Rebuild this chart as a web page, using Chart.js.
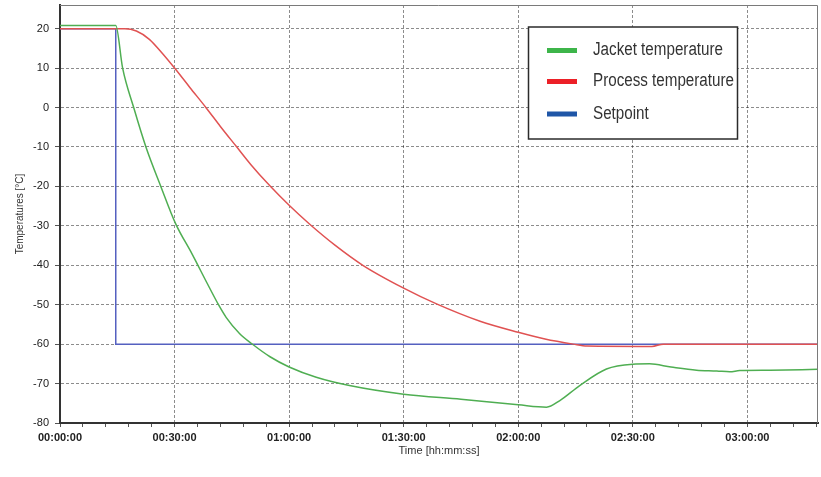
<!DOCTYPE html>
<html>
<head>
<meta charset="utf-8">
<script src="https://cdn.jsdelivr.net/npm/chart.js@4.4.1/dist/chart.umd.min.js"></script>
<style>
    html, body { margin: 0; padding: 0; background: #fff; }
    #wrap { width: 821px; height: 477px; position: relative; }
</style>
</head>
<body>
<div id="wrap"><canvas id="tempChart"></canvas></div>
<script>
// Time in minutes, temperatures in °C
const seriesNames = ['Jacket temperature', 'Process temperature', 'Setpoint'];

const jacketTime = [0, 14.6, 16.4, 19.3, 22.5, 26.4, 30.3, 34.5, 38.5, 41.5, 43.5, 47, 50.5, 55, 60, 67.1, 75.8, 90, 105, 120, 127.4, 130.9, 136.1, 143.1, 150, 154.4, 160, 166.7, 172, 175.4, 178, 185.9, 198.5];
const jacketTemp = [20.8, 20.8, 10, 0, -10, -20, -29.5, -37, -44.5, -50, -53.2, -57.3, -60.1, -63.2, -65.8, -68.4, -70.5, -72.7, -74, -75.4, -76, -74.3, -70.5, -66.3, -65.1, -65, -65.8, -66.6, -66.8, -67, -66.7, -66.6, -66.4];

const processTime = [0, 17, 20, 23.4, 27, 30, 34, 38.3, 42, 46.2, 50, 54.9, 60, 65.4, 72, 79.3, 90, 98.6, 110, 120, 127, 134.4, 138, 155, 158, 198.5];
const processTemp = [20, 20, 19.4, 17.3, 13.5, 10, 5.1, -0.1, -4.8, -9.9, -14.5, -19.8, -24.8, -29.6, -34.9, -40, -45.8, -49.8, -54.2, -57, -58.7, -60, -60.5, -60.6, -60, -60];

const setpointTime = [0, 14.6, 14.6, 198.5];
const setpointTemp = [20, 20, -60, -60];

const xTicks = ['00:00:00', '00:30:00', '01:00:00', '01:30:00', '02:00:00', '02:30:00', '03:00:00'];

const lineColors = ['#4fae52', '#e05252', '#5560c0'];
const legendColors = ['#3db54a', '#ec2027', '#1f56a7'];

function toPoints(times, temps) {
    return times.map((t, i) => ({ x: t, y: temps[i] }));
}

// legend box plus top/right frame of the plot area
const framePlugin = {
    id: 'frameLegend',
    afterDraw(chart) {
        const ctx = chart.ctx;
        const area = chart.chartArea;
        ctx.save();
        ctx.strokeStyle = '#7a7a7a';
        ctx.lineWidth = 1;
        ctx.beginPath();
        ctx.moveTo(area.left, area.top + 0.5);
        ctx.lineTo(area.right - 0.5, area.top + 0.5);
        ctx.lineTo(area.right - 0.5, area.bottom);
        ctx.stroke();

        const bx = 528.5, by = 27, bw = 209, bh = 112;
        ctx.fillStyle = '#fff';
        ctx.fillRect(bx, by, bw, bh);
        ctx.strokeStyle = '#2b2b2b';
        ctx.lineWidth = 1.5;
        ctx.strokeRect(bx, by, bw, bh);

        const rows = [50.5, 81.5, 114];
        ctx.font = "18px 'Liberation Sans', Arial, sans-serif";
        ctx.textBaseline = 'middle';
        // squeeze the text to the condensed look of the original legend
        const squeeze = 130 / ctx.measureText(seriesNames[0]).width;
        seriesNames.forEach((name, i) => {
            ctx.fillStyle = legendColors[i];
            ctx.fillRect(547, rows[i] - 2.5, 30, 5);
            ctx.save();
            ctx.translate(593, rows[i]);
            ctx.scale(squeeze, 1);
            ctx.fillStyle = '#333';
            ctx.fillText(name, 0, 0);
            ctx.restore();
        });
        ctx.restore();
    }
};

const chart = new Chart(document.getElementById('tempChart'), {
    type: 'line',
    data: {
        datasets: [
            {
                label: seriesNames[0],
                data: toPoints(jacketTime, jacketTemp),
                borderColor: lineColors[0],
                borderWidth: 1.5,
                pointRadius: 0,
                cubicInterpolationMode: 'monotone'
            },
            {
                label: seriesNames[1],
                data: toPoints(processTime, processTemp),
                borderColor: lineColors[1],
                borderWidth: 1.5,
                pointRadius: 0,
                cubicInterpolationMode: 'monotone'
            },
            {
                label: seriesNames[2],
                data: toPoints(setpointTime, setpointTemp),
                borderColor: lineColors[2],
                borderWidth: 1.5,
                pointRadius: 0,
                tension: 0
            }
        ]
    },
    options: {
        responsive: true,
        maintainAspectRatio: false,
        animation: false,
        layout: { padding: { top: 5, right: 3, left: 14, bottom: 19 } },
        plugins: {
            legend: { display: false },
            tooltip: { enabled: false }
        },
        scales: {
            x: {
                type: 'linear',
                min: 0,
                max: 198.5,
                afterFit: function(scale) {
                    scale.height = 35;
                    scale.paddingLeft = 0;
                    scale.paddingRight = 0;
                },
                border: { display: true, color: '#333', width: 2, dash: [3, 2] },
                grid: {
                    color: function(c) {
                        return (c.tick && c.tick.value % 30 === 0 && c.tick.value !== 0) ? 'rgba(0,0,0,0.45)' : 'transparent';
                    },
                    tickColor: '#555',
                    tickLength: 4,
                    lineWidth: 1
                },
                ticks: {
                    stepSize: 6,
                    includeBounds: false,
                    autoSkip: false,
                    maxRotation: 0,
                    padding: 4,
                    color: '#222',
                    font: { family: "'Liberation Sans', Arial, sans-serif", size: 11, weight: 'bold' },
                    callback: function(value) {
                        return value % 30 === 0 ? xTicks[value / 30] : '';
                    }
                },
                title: {
                    display: true,
                    text: 'Time [hh:mm:ss]',
                    color: '#333',
                    padding: { top: 0, bottom: 0 },
                    font: { family: "'Liberation Sans', Arial, sans-serif", size: 11 }
                }
            },
            y: {
                min: -80,
                max: 26,
                afterFit: function(scale) {
                    scale.width = 46;
                    scale.paddingTop = 0;
                    scale.paddingBottom = 0;
                },
                border: { display: true, color: '#333', width: 2, dash: [3, 2] },
                grid: {
                    color: 'rgba(0,0,0,0.45)',
                    tickColor: '#555',
                    tickLength: 5,
                    lineWidth: 1
                },
                ticks: {
                    stepSize: 10,
                    includeBounds: false,
                    padding: 6,
                    color: '#222',
                    font: { family: "'Liberation Sans', Arial, sans-serif", size: 11 }
                },
                title: {
                    display: true,
                    text: 'Temperatures [°C]',
                    color: '#333',
                    padding: { top: 0, bottom: 0 },
                    font: { family: "'Liberation Sans', Arial, sans-serif", size: 10 }
                }
            }
        }
    },
    plugins: [framePlugin]
});
</script>
</body>
</html>
